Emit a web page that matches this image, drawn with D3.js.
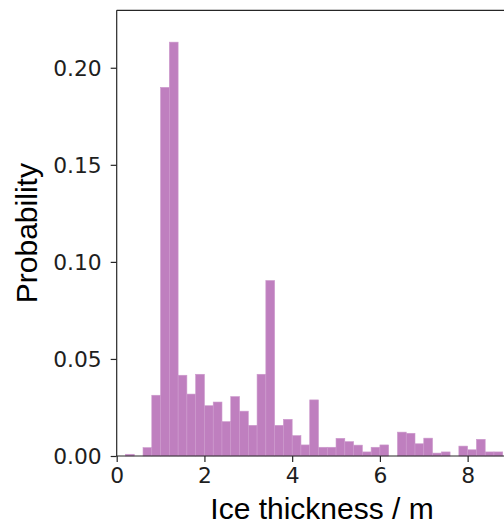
<!DOCTYPE html>
<html>
<head>
<meta charset="utf-8">
<script src="https://cdn.jsdelivr.net/npm/d3@7"></script>
<style>
  html, body { margin: 0; padding: 0; background: #fff; overflow: hidden; }
  svg { display: block; }
  .tick text { font-family: "DejaVu Sans", sans-serif; font-size: 21.8px; fill: #1e1e1e; }
  .axis-title { font-family: "Liberation Sans", Arial, sans-serif; font-size: 30px; fill: #000; }
</style>
</head>
<body>
<svg id="chart" width="504" height="526"></svg>
<script>
// Histogram of ice thickness: left edge of each 0.2 m bin and its probability
const binWidth = 0.2;
const binLeft = [0.0, 0.2, 0.4, 0.6, 0.8, 1.0, 1.2, 1.4, 1.6, 1.8,
                 2.0, 2.2, 2.4, 2.6, 2.8, 3.0, 3.2, 3.4, 3.6, 3.8,
                 4.0, 4.2, 4.4, 4.6, 4.8, 5.0, 5.2, 5.4, 5.6, 5.8,
                 6.0, 6.2, 6.4, 6.6, 6.8, 7.0, 7.2, 7.4, 7.6, 7.8,
                 8.0, 8.2, 8.4, 8.6];
const probability = [0.0000, 0.0009, 0.0000, 0.0043, 0.0313, 0.1899, 0.2132, 0.0416, 0.0319, 0.0421,
                     0.0259, 0.0278, 0.0177, 0.0306, 0.0231, 0.0158, 0.0421, 0.0904, 0.0158, 0.0189,
                     0.0105, 0.0057, 0.0289, 0.0045, 0.0045, 0.0091, 0.0074, 0.0056, 0.0021, 0.0045,
                     0.0057, 0.0000, 0.0123, 0.0117, 0.0063, 0.0092, 0.0015, 0.0021, 0.0000, 0.0051,
                     0.0032, 0.0086, 0.0021, 0.0021];
const xTicks = [0, 2, 4, 6, 8];
const yTicks = [0.00, 0.05, 0.10, 0.15, 0.20];

const bins = binLeft.map((x0, i) => ({ x0: x0, x1: x0 + binWidth, p: probability[i] }));

const plotLeft = 116.7, plotRight = 527.3, plotTop = 10.3, plotBottom = 456;
const svg = d3.select("#chart");

const x = d3.scaleLinear().domain([0, 9.36]).range([plotLeft, plotRight]);
const y = d3.scaleLinear().domain([0, 0.2296]).range([plotBottom, plotTop]);

// bars
svg.append("g")
  .selectAll("rect")
  .data(bins.filter(d => d.p > 0))
  .join("rect")
  .attr("x", d => x(d.x0))
  .attr("width", d => x(d.x1) - x(d.x0))
  .attr("y", d => y(d.p))
  .attr("height", d => y(0) - y(d.p))
  .attr("fill", "#bf7fbf")
  .attr("stroke", "#cc99cc")
  .attr("stroke-width", 0.6);

// axes
const xAxis = d3.axisBottom(x).tickValues(xTicks).tickFormat(d3.format("d"))
  .tickSizeInner(6).tickSizeOuter(0).tickPadding(6);
const yAxis = d3.axisLeft(y).tickValues(yTicks).tickFormat(d3.format(".2f"))
  .tickSizeInner(6).tickSizeOuter(0).tickPadding(9);

const gx = svg.append("g").attr("transform", `translate(0,${plotBottom})`).call(xAxis);
const gy = svg.append("g").attr("transform", `translate(${plotLeft},0)`).call(yAxis);
[gx, gy].forEach(g => {
  g.select(".domain").remove();
  g.selectAll(".tick line").attr("stroke", "#262626").attr("stroke-width", 1.2);
});
gy.selectAll(".tick text").attr("dy", "0.36em");

// frame (left, bottom, top; the right side runs past the edge)
const frame = svg.append("g").attr("fill", "none").attr("stroke", "#262626").attr("stroke-width", 1.2);
frame.append("line").attr("x1", plotLeft).attr("x2", plotLeft).attr("y1", plotTop).attr("y2", plotBottom);
frame.append("line").attr("x1", plotLeft).attr("x2", plotRight).attr("y1", plotBottom).attr("y2", plotBottom);
frame.append("line").attr("x1", plotLeft).attr("x2", plotRight).attr("y1", plotTop).attr("y2", plotTop);
frame.append("line").attr("x1", plotRight).attr("x2", plotRight).attr("y1", plotTop).attr("y2", plotBottom);

// axis titles
svg.append("text").attr("class", "axis-title")
  .attr("x", (plotLeft + plotRight) / 2).attr("y", 519)
  .attr("text-anchor", "middle")
  .text("Ice thickness / m");
svg.append("text").attr("class", "axis-title")
  .attr("transform", `translate(37,${(plotTop + plotBottom) / 2}) rotate(-90)`)
  .attr("text-anchor", "middle")
  .text("Probability");
</script>
</body>
</html>
